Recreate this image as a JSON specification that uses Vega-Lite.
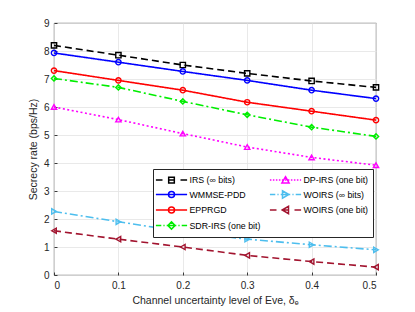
{
  "$schema": "https://vega.github.io/schema/vega-lite/v6.json",
  "autosize": {"type": "none"},
  "width": 322,
  "height": 252,
  "padding": {"left": 54, "top": 23, "right": 39, "bottom": 37},
  "background": "white",
  "data": {"values": [
    {"s": "IRS (∞ bits)", "x": 0, "y": 8.2},
    {"s": "IRS (∞ bits)", "x": 0.1, "y": 7.85},
    {"s": "IRS (∞ bits)", "x": 0.2, "y": 7.5},
    {"s": "IRS (∞ bits)", "x": 0.3, "y": 7.2},
    {"s": "IRS (∞ bits)", "x": 0.4, "y": 6.93},
    {"s": "IRS (∞ bits)", "x": 0.5, "y": 6.7},
    {"s": "WMMSE-PDD", "x": 0, "y": 7.93},
    {"s": "WMMSE-PDD", "x": 0.1, "y": 7.6},
    {"s": "WMMSE-PDD", "x": 0.2, "y": 7.27},
    {"s": "WMMSE-PDD", "x": 0.3, "y": 6.95},
    {"s": "WMMSE-PDD", "x": 0.4, "y": 6.6},
    {"s": "WMMSE-PDD", "x": 0.5, "y": 6.3},
    {"s": "EPPRGD", "x": 0, "y": 7.3},
    {"s": "EPPRGD", "x": 0.1, "y": 6.95},
    {"s": "EPPRGD", "x": 0.2, "y": 6.6},
    {"s": "EPPRGD", "x": 0.3, "y": 6.17},
    {"s": "EPPRGD", "x": 0.4, "y": 5.85},
    {"s": "EPPRGD", "x": 0.5, "y": 5.53},
    {"s": "SDR-IRS (one bit)", "x": 0, "y": 7.02},
    {"s": "SDR-IRS (one bit)", "x": 0.1, "y": 6.7},
    {"s": "SDR-IRS (one bit)", "x": 0.2, "y": 6.2},
    {"s": "SDR-IRS (one bit)", "x": 0.3, "y": 5.72},
    {"s": "SDR-IRS (one bit)", "x": 0.4, "y": 5.28},
    {"s": "SDR-IRS (one bit)", "x": 0.5, "y": 4.95},
    {"s": "DP-IRS (one bit)", "x": 0, "y": 6.0},
    {"s": "DP-IRS (one bit)", "x": 0.1, "y": 5.55},
    {"s": "DP-IRS (one bit)", "x": 0.2, "y": 5.05},
    {"s": "DP-IRS (one bit)", "x": 0.3, "y": 4.57},
    {"s": "DP-IRS (one bit)", "x": 0.4, "y": 4.2},
    {"s": "DP-IRS (one bit)", "x": 0.5, "y": 3.92},
    {"s": "WOIRS (∞ bits)", "x": 0, "y": 2.27},
    {"s": "WOIRS (∞ bits)", "x": 0.1, "y": 1.9},
    {"s": "WOIRS (∞ bits)", "x": 0.2, "y": 1.55},
    {"s": "WOIRS (∞ bits)", "x": 0.3, "y": 1.28},
    {"s": "WOIRS (∞ bits)", "x": 0.4, "y": 1.08},
    {"s": "WOIRS (∞ bits)", "x": 0.5, "y": 0.9},
    {"s": "WOIRS (one bit)", "x": 0, "y": 1.58},
    {"s": "WOIRS (one bit)", "x": 0.1, "y": 1.28},
    {"s": "WOIRS (one bit)", "x": 0.2, "y": 1.0},
    {"s": "WOIRS (one bit)", "x": 0.3, "y": 0.7},
    {"s": "WOIRS (one bit)", "x": 0.4, "y": 0.48},
    {"s": "WOIRS (one bit)", "x": 0.5, "y": 0.28}
  ]},
  "encoding": {
    "x": {"field": "x", "type": "quantitative",
      "scale": {"domain": [0, 0.5], "nice": false},
      "axis": {"values": [0, 0.1, 0.2, 0.3, 0.4, 0.5], "format": "~g", "title": "Channel uncertainty level of Eve, δₑ", "titlePadding": 5}},
    "y": {"field": "y", "type": "quantitative",
      "scale": {"domain": [0, 9], "nice": false},
      "axis": {"values": [0, 1, 2, 3, 4, 5, 6, 7, 8, 9], "title": "Secrecy rate (bps/Hz)", "titlePadding": 5}}
  },
  "layer": [
    {
      "mark": {"type": "line", "strokeWidth": 1.6},
      "encoding": {
        "stroke": {"field": "s", "type": "nominal",
          "scale": {
            "domain": ["WOIRS (one bit)", "WOIRS (∞ bits)", "DP-IRS (one bit)", "SDR-IRS (one bit)", "EPPRGD", "WMMSE-PDD", "IRS (∞ bits)"],
            "range": ["#a2142f", "#4dbeee", "#ff00ff", "#00ee00", "#ff0000", "#0000ff", "#000000"]
          },
          "legend": null},
        "strokeDash": {"field": "s", "type": "nominal",
          "scale": {
            "domain": ["WOIRS (one bit)", "WOIRS (∞ bits)", "DP-IRS (one bit)", "SDR-IRS (one bit)", "EPPRGD", "WMMSE-PDD", "IRS (∞ bits)"],
            "range": [[7, 4], [8, 3, 2, 3], [2, 2.5], [8, 3, 2, 3], [1, 0], [1, 0], [7, 4]]
          },
          "legend": null}
      }
    },
    {
      "mark": {"type": "point", "filled": false, "strokeWidth": 1.4, "size": 28, "opacity": 1},
      "encoding": {
        "stroke": {"field": "s", "type": "nominal", "legend": null},
        "shape": {"field": "s", "type": "nominal",
          "scale": {
            "domain": ["WOIRS (one bit)", "WOIRS (∞ bits)", "DP-IRS (one bit)", "SDR-IRS (one bit)", "EPPRGD", "WMMSE-PDD", "IRS (∞ bits)"],
            "range": ["triangle-left", "triangle-right", "triangle-up", "diamond", "circle", "circle", "square"]
          },
          "legend": null}
      }
    },
    {
      "mark": {"type": "point", "filled": false, "opacity": 0},
      "encoding": {
        "color": {"field": "s", "type": "nominal",
          "scale": {
            "domain": ["IRS (∞ bits)", "WMMSE-PDD", "EPPRGD", "SDR-IRS (one bit)", "DP-IRS (one bit)", "WOIRS (∞ bits)", "WOIRS (one bit)"],
            "range": ["#000000", "#0000ff", "#ff0000", "#00ee00", "#ff00ff", "#4dbeee", "#a2142f"]
          },
          "legend": {
            "title": null,
            "orient": "none",
            "legendX": 99,
            "legendY": 146,
            "columns": 2,
            "columnPadding": 5,
            "rowPadding": 1.5,
            "symbolSize": 144,
            "symbolOffset": 7.5,
            "labelOffset": 11,
            "padding": 4,
            "offset": 0,
            "strokeColor": "#262626",
            "fillColor": "white",
            "labelFont": "Liberation Sans",
            "labelFontSize": 8.8,
            "labelColor": "#000000",
            "encoding": {
              "symbols": {
                "fill": {"value": "transparent"},
                "strokeWidth": {"value": 1.5},
                "opacity": {"value": 1},
                "shape": {"value": {"expr": "datum.value === 'IRS (∞ bits)' ? 'M-2.6,0H-1.5M-0.5,0H0.5M1.5,0H2.6M-0.47,-0.47H0.47V0.47H-0.47Z' : (datum.value === 'WMMSE-PDD' || datum.value === 'EPPRGD') ? 'M-2.6,0H2.6M-0.5,0A0.5,0.5,0,1,0,0.5,0A0.5,0.5,0,1,0,-0.5,0Z' : datum.value === 'SDR-IRS (one bit)' ? 'M-2.6,0H-1.7M-1.35,0H-1.15M-0.8,0H0.8M1.15,0H1.35M1.7,0H2.6M0,-0.6L0.6,0L0,0.6L-0.6,0Z' : datum.value === 'DP-IRS (one bit)' ? 'M-2.6,0H-2.35M-2.1,0H-1.85M-1.6,0H-1.35M-1.1,0H-0.85M-0.6,0H-0.35M-0.1,0H0.15M0.4,0H0.65M0.9,0H1.15M1.4,0H1.65M1.9,0H2.15M2.4,0H2.6M0,-0.55L0.6,0.5L-0.6,0.5Z' : datum.value === 'WOIRS (∞ bits)' ? 'M-2.6,0H-1.7M-1.35,0H-1.15M-0.8,0H0.8M1.15,0H1.35M1.7,0H2.6M0.55,0L-0.5,-0.6L-0.5,0.6Z' : 'M-2.6,0H-1.5M-0.5,0H0.5M1.5,0H2.6M-0.55,0L0.5,-0.6L0.5,0.6Z'"}}
              }
            }
          }
        }
      }
    }
  ],
  "config": {
    "view": {"stroke": "#3a3a3a", "strokeWidth": 0.8},
    "axis": {
      "domain": false,
      "grid": true,
      "gridColor": "#e3e3e3",
      "gridWidth": 0.8,
      "ticks": true,
      "tickSize": -3,
      "tickColor": "#3a3a3a",
      "labelFont": "Liberation Sans",
      "labelFontSize": 10,
      "labelColor": "#262626",
      "labelPadding": 8,
      "titleFont": "Liberation Sans",
      "titleFontSize": 10.5,
      "titleFontWeight": "normal",
      "titleColor": "#262626"
    }
  }
}
